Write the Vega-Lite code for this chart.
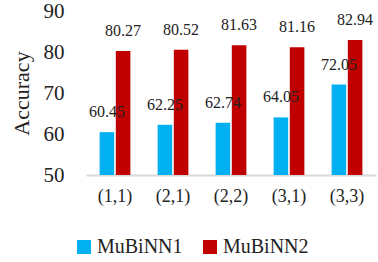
{
  "$schema": "https://vega.github.io/schema/vega-lite/v6.json",
  "width": 290,
  "height": 164,
  "autosize": {"type": "none"},
  "padding": {"left": 86, "top": 11, "right": 2, "bottom": 87},
  "background": "white",
  "config": {
    "view": {"stroke": null},
    "font": "Liberation Serif",
    "axis": {"labelFont": "Liberation Serif", "titleFont": "Liberation Serif"},
    "legend": {"labelFont": "Liberation Serif"}
  },
  "data": {
    "values": [
      {"cfg": "(1,1)", "model": "MuBiNN1", "acc": 60.45},
      {"cfg": "(1,1)", "model": "MuBiNN2", "acc": 80.27},
      {"cfg": "(2,1)", "model": "MuBiNN1", "acc": 62.25},
      {"cfg": "(2,1)", "model": "MuBiNN2", "acc": 80.52},
      {"cfg": "(2,2)", "model": "MuBiNN1", "acc": 62.74},
      {"cfg": "(2,2)", "model": "MuBiNN2", "acc": 81.63},
      {"cfg": "(3,1)", "model": "MuBiNN1", "acc": 64.05},
      {"cfg": "(3,1)", "model": "MuBiNN2", "acc": 81.16},
      {"cfg": "(3,3)", "model": "MuBiNN1", "acc": 72.05},
      {"cfg": "(3,3)", "model": "MuBiNN2", "acc": 82.94}
    ]
  },
  "encoding": {
    "x": {
      "field": "cfg", "type": "nominal", "sort": null,
      "scale": {"paddingInner": 0.47, "paddingOuter": 0.235},
      "axis": {
        "title": null, "labelAngle": 0, "labelFontSize": 18, "labelColor": "#222",
        "ticks": false, "domainColor": "#d9d9d9", "domainWidth": 2, "labelPadding": 12
      }
    },
    "xOffset": {"field": "model", "type": "nominal", "scale": {"paddingInner": 0.1}},
    "y": {
      "field": "acc", "type": "quantitative",
      "scale": {"domain": [50, 90], "clamp": true},
      "axis": {
        "title": "Accuracy", "titleFontSize": 22, "titleFontWeight": "normal", "titleColor": "#222",
        "titleX": -53, "titleY": 82, "values": [50, 60, 70, 80, 90],
        "labelFontSize": 21, "labelColor": "#222", "domain": false, "ticks": false,
        "grid": false, "labelPadding": 22
      }
    }
  },
  "layer": [
    {
      "mark": {"type": "bar"},
      "encoding": {
        "color": {
          "field": "model", "type": "nominal",
          "scale": {"domain": ["MuBiNN1", "MuBiNN2"], "range": ["#00B0F0", "#C00000"]},
          "legend": {
            "title": null, "orient": "none", "direction": "horizontal",
            "legendX": -12, "legendY": 226, "padding": 0,
            "symbolType": "square", "symbolSize": 196, "symbolStrokeWidth": 0,
            "labelFont": "Liberation Serif",
            "labelFontSize": 20, "labelColor": "#222", "labelOffset": 3, "columnPadding": 17,
            "labelLimit": 200
          }
        }
      }
    },
    {
      "mark": {"type": "text", "fontSize": 16, "dy": -15, "baseline": "alphabetic", "color": "#222", "font": "Liberation Serif"},
      "encoding": {
        "text": {"field": "acc", "type": "quantitative", "format": ".2f"}
      }
    }
  ]
}
